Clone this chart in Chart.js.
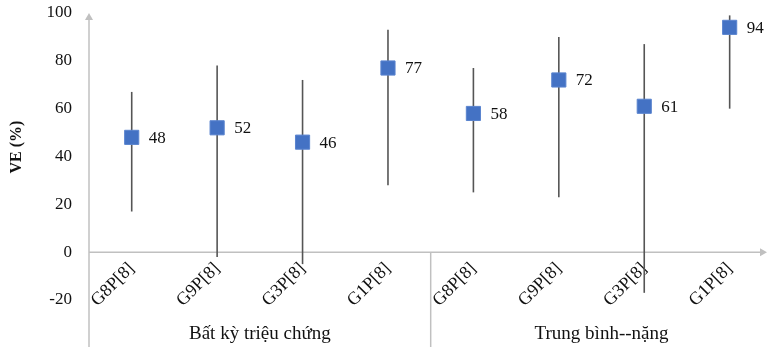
<!DOCTYPE html>
<html>
<head>
<meta charset="utf-8">
<script src="https://cdn.jsdelivr.net/npm/chart.js@4.4.0/dist/chart.umd.min.js"></script>
<style>
  html, body { margin: 0; padding: 0; background: #fff; }
  #wrap { width: 768px; height: 347px; position: relative; }
</style>
</head>
<body>
<div id="wrap"><canvas id="veChart"></canvas></div>
<script>
// Dữ liệu
const categories = ['G8P[8]', 'G9P[8]', 'G3P[8]', 'G1P[8]', 'G8P[8]', 'G9P[8]', 'G3P[8]', 'G1P[8]'];
const groups = ['Bất kỳ triệu chứng', 'Trung bình--nặng'];
const groupSize = 4;
const veValues = [48, 52, 46, 77, 58, 72, 61, 94];
const ciLow = [17, -2, -5, 28, 25, 23, -17, 60];
const ciHigh = [67, 78, 72, 93, 77, 90, 87, 99];
const yTicks = [-20, 0, 20, 40, 60, 80, 100];

const serif = '"Liberation Serif", "Times New Roman", serif';
const axisGray = '#c0c0c0';

const noPad = s => {
    s.paddingTop = 0;
    s.paddingBottom = 0;
    s.paddingLeft = 0;
    s.paddingRight = 0;
};

const extras = {
    id: 'extras',
    beforeDatasetsDraw(chart) {
        const { ctx, chartArea } = chart;
        const x = chart.scales.x;
        const y = chart.scales.y;
        const left = chartArea.left;
        const y0 = y.getPixelForValue(0);
        const top = y.getPixelForValue(100);
        ctx.save();

        // trục tung kéo xuống tận đáy, có mũi tên
        ctx.strokeStyle = axisGray;
        ctx.fillStyle = axisGray;
        ctx.lineWidth = 1.5;
        ctx.beginPath();
        ctx.moveTo(left, chart.height);
        ctx.lineTo(left, top + 5);
        ctx.stroke();
        ctx.beginPath();
        ctx.moveTo(left, top);
        ctx.lineTo(left - 4, top + 7);
        ctx.lineTo(left + 4, top + 7);
        ctx.closePath();
        ctx.fill();

        // trục hoành tại 0, có mũi tên
        const right = chart.width - 1;
        ctx.beginPath();
        ctx.moveTo(left, y0);
        ctx.lineTo(right - 5, y0);
        ctx.stroke();
        ctx.beginPath();
        ctx.moveTo(right, y0);
        ctx.lineTo(right - 7, y0 - 4);
        ctx.lineTo(right - 7, y0 + 4);
        ctx.closePath();
        ctx.fill();

        // vạch ngăn giữa hai nhóm
        for (let g = 1; g < groups.length; g++) {
            const sx = x.getPixelForValue(g * groupSize - 0.5);
            ctx.beginPath();
            ctx.moveTo(sx, y0);
            ctx.lineTo(sx, chart.height);
            ctx.stroke();
        }

        // khoảng tin cậy
        ctx.strokeStyle = '#555555';
        ctx.lineWidth = 1.6;
        veValues.forEach((v, i) => {
            const px = x.getPixelForValue(i);
            ctx.beginPath();
            ctx.moveTo(px, y.getPixelForValue(ciLow[i]));
            ctx.lineTo(px, y.getPixelForValue(ciHigh[i]));
            ctx.stroke();
        });
        ctx.restore();
    },
    afterDatasetsDraw(chart) {
        const { ctx } = chart;
        const x = chart.scales.x;
        const y = chart.scales.y;
        ctx.save();
        ctx.fillStyle = '#111';

        // nhãn giá trị
        ctx.font = '17px ' + serif;
        ctx.textAlign = 'left';
        ctx.textBaseline = 'middle';
        veValues.forEach((v, i) => {
            ctx.fillText(String(v), x.getPixelForValue(i) + 17, y.getPixelForValue(v) + 1);
        });

        // tên nhóm
        ctx.font = '19px ' + serif;
        ctx.textAlign = 'center';
        groups.forEach((name, g) => {
            const cx = (x.getPixelForValue(g * groupSize) + x.getPixelForValue(g * groupSize + groupSize - 1)) / 2;
            ctx.fillText(name, cx, 334);
        });

        // tiêu đề trục tung
        ctx.font = 'bold 16px ' + serif;
        ctx.translate(17, 147);
        ctx.rotate(-Math.PI / 2);
        ctx.fillText('VE (%)', 0, 0);
        ctx.restore();
    }
};

new Chart(document.getElementById('veChart'), {
    type: 'scatter',
    data: {
        datasets: [{
            data: veValues.map((v, i) => ({ x: i, y: v })),
            pointStyle: 'rect',
            pointRadius: 10,
            pointHoverRadius: 10,
            backgroundColor: '#4472C4',
            borderColor: '#5a84cf',
            borderWidth: 1
        }]
    },
    options: {
        responsive: true,
        maintainAspectRatio: false,
        animation: false,
        layout: { padding: { top: 13, bottom: 47, left: 0, right: 0 } },
        plugins: { legend: { display: false }, tooltip: { enabled: false } },
        scales: {
            x: {
                type: 'linear',
                position: { y: 0 },
                min: -0.5,
                max: 7.32,
                afterBuildTicks: s => { s.ticks = categories.map((c, i) => ({ value: i })); },
                afterFit: noPad,
                grid: { display: false, drawTicks: false },
                border: { display: false },
                ticks: {
                    callback: v => categories[v],
                    autoSkip: false,
                    maxRotation: 45,
                    minRotation: 45,
                    padding: 6,
                    color: '#111',
                    font: { family: serif, size: 18 }
                }
            },
            y: {
                min: -20,
                max: 100,
                afterBuildTicks: s => { s.ticks = yTicks.map(v => ({ value: v })); },
                afterFit: s => { s.width = 89; noPad(s); },
                grid: { display: false, drawTicks: false },
                border: { display: false },
                ticks: {
                    padding: 17,
                    color: '#111',
                    font: { family: serif, size: 17 }
                }
            }
        }
    },
    plugins: [extras]
});
</script>
</body>
</html>
